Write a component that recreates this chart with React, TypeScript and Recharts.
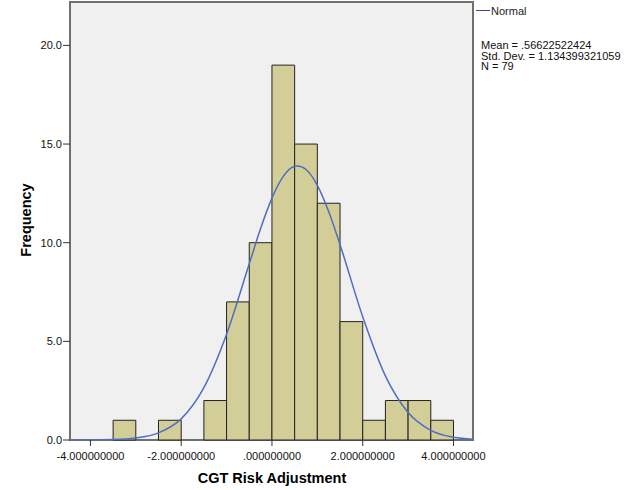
import { ComposedChart, Line, XAxis, YAxis, ReferenceArea } from "recharts";

// histogram bins (left edge) and frequencies
const binStarts = [-3.5, -2.5, -1.5, -1.0, -0.5, 0.0, 0.5, 1.0, 1.5, 2.0, 2.5, 3.0, 3.5];
const counts = [1, 1, 2, 7, 10, 19, 15, 12, 6, 1, 2, 2, 1];
const binWidth = 0.5;

// normal curve
const curveX = [-4.45, -4, -3.5, -3, -2.5, -2, -1.5, -1, -0.5, -0.25, 0, 0.25, 0.5, 0.566, 0.75, 1, 1.25, 1.5, 2, 2.5, 3, 3.5, 4, 4.43];
const curveY = [0.0, 0.0, 0.02, 0.1, 0.36, 1.07, 2.65, 5.36, 8.93, 10.72, 12.26, 13.36, 13.87, 13.89, 13.71, 12.91, 11.58, 9.9, 6.25, 3.25, 1.39, 0.49, 0.14, 0.04];

const xTicks = [-4, -2, 0, 2, 4];
const yTicks = [0, 5, 10, 15, 20];
const statLines = ["Mean = .56622522424", "Std. Dev. = 1.134399321059", "N = 79"];

const xDomain: [number, number] = [-4.45, 4.43];
const yDomain: [number, number] = [0, 22.2];

const curve = curveX.map((x, i) => ({ x, y: curveY[i] }));

const fmtX = (v: number) => (v === 0 ? ".000000000" : v.toFixed(9));

export default function App() {
  return (
    <div style={{ position: "relative", width: 635, height: 490, background: "#fff", fontFamily: "'Liberation Sans', Arial, sans-serif" }}>
      <style>{`body{margin:0}`}</style>
      <ComposedChart width={635} height={490} data={curve} margin={{ top: 2, right: 162, bottom: 20, left: 0 }}>
        <XAxis
          type="number"
          dataKey="x"
          domain={xDomain}
          ticks={xTicks}
          tickFormatter={fmtX}
          axisLine={false}
          tickLine={{ stroke: "#333" }}
          tickSize={6}
          tickMargin={6}
          height={30}
          tick={{ fill: "#111", fontSize: 11, fontFamily: "'Liberation Sans', Arial" }}
          allowDataOverflow
        />
        <YAxis
          type="number"
          domain={yDomain}
          ticks={yTicks}
          tickFormatter={(v) => v.toFixed(1)}
          axisLine={false}
          tickLine={{ stroke: "#333" }}
          tickSize={7}
          tickMargin={1}
          width={70}
          tick={{ fill: "#111", fontSize: 11, fontFamily: "'Liberation Sans', Arial" }}
          allowDataOverflow
        />
        <ReferenceArea
          x1={xDomain[0]}
          x2={xDomain[1]}
          y1={yDomain[0]}
          y2={yDomain[1]}
          fill="#F0F0F0"
          fillOpacity={1}
          stroke="#707070"
          strokeWidth={2}
        />
        {binStarts.map((b, i) => (
          <ReferenceArea
            key={i}
            x1={b}
            x2={b + binWidth}
            y1={0}
            y2={counts[i]}
            fill="#D3CE98"
            fillOpacity={1}
            stroke="#222"
            strokeWidth={1}
          />
        ))}
        <Line
          type="monotone"
          dataKey="y"
          stroke="#4F6DC2"
          strokeWidth={1.5}
          dot={false}
          activeDot={false}
          isAnimationActive={false}
        />
      </ComposedChart>
      <svg width={635} height={490} style={{ position: "absolute", left: 0, top: 0, pointerEvents: "none" }}>
        <line x1={476} x2={490} y1={10.5} y2={10.5} stroke="#2F4A9E" strokeWidth={1} />
        <text x={491} y={14.5} fontSize={11} fill="#222">Normal</text>
        {statLines.map((s, i) => (
          <text key={i} x={481} y={49 + i * 10.5} fontSize={11} fill="#111">{s}</text>
        ))}
        <text x={272} y={483} textAnchor="middle" fontSize={14.5} fontWeight="bold" fill="#000">CGT Risk Adjustment</text>
        <text x={31} y={220} transform="rotate(-90 31 220)" textAnchor="middle" fontSize={14.5} fontWeight="bold" fill="#000">Frequency</text>
      </svg>
    </div>
  );
}
